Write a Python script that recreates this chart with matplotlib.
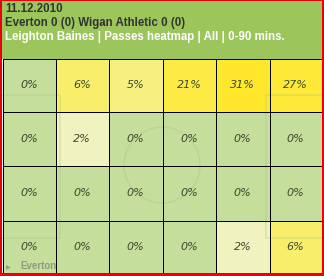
import matplotlib

matplotlib.use("Agg")
import matplotlib.pyplot as plt
import numpy as np
from matplotlib.colors import LinearSegmentedColormap
from matplotlib.patches import Circle, Rectangle

# chart data
match_date = "11.12.2010"
match_title = "Everton 0 (0) Wigan Athletic 0 (0)"
subtitle = "Leighton Baines | Passes heatmap | All | 0-90 mins."
team_label = "Everton"
pass_share = np.array(
    [
        [0, 6, 5, 21, 31, 27],
        [0, 2, 0, 0, 0, 0],
        [0, 0, 0, 0, 0, 0],
        [0, 0, 0, 0, 2, 6],
    ]
)

# layout in pixel units
W, H = 324, 276
x_edges = np.array([2.5, 55.5, 108.5, 162.5, 215.5, 269.5, 321.5])
y_edges = np.array([58.5, 111.5, 165.5, 220.5, 276])

vmax = 31.0
cmap = LinearSegmentedColormap.from_list(
    "heat",
    [
        (0.0, "#c6de9c"),
        (2 / vmax, "#f1f3c0"),
        (5 / vmax, "#f6f07e"),
        (6 / vmax, "#f9ee6a"),
        (1.0, "#ffe82c"),
    ],
)

fig = plt.figure(figsize=(W / 100, H / 100), dpi=100)
ax = fig.add_axes([0, 0, 1, 1])
ax.set_xlim(0, W)
ax.set_ylim(H, 0)
ax.axis("off")

# header
ax.add_patch(Rectangle((0, 0), W, 58.5, facecolor="#9cc65b", edgecolor="none", zorder=1))

ax.pcolormesh(x_edges, y_edges, pass_share, cmap=cmap, vmin=0, vmax=vmax, zorder=2)

# faint pitch markings
line_kw = dict(color="#a8c080", alpha=0.3, linewidth=1.2, zorder=3)
ax.add_patch(Circle((162, 165), 38, fill=False, **line_kw))
ax.plot([2, 60, 60, 2], [95, 95, 238, 238], **line_kw)
ax.plot([322, 266, 266, 322], [95, 95, 238, 238], **line_kw)

# cell borders
ax.vlines(x_edges, y_edges[0], y_edges[-1], colors="black", linewidth=0.72,
          antialiased=False, zorder=3.5)
ax.hlines(y_edges[:-1], x_edges[0], x_edges[-1], colors="black", linewidth=0.72,
          antialiased=False, zorder=3.5)

# red frame
red = "#e8000b"
for rect in [(0, 0, W, 1), (0, 0, 2, H), (322, 0, 2, H), (0, 273, W, 3)]:
    ax.add_patch(Rectangle(rect[:2], rect[2], rect[3], facecolor=red, edgecolor="none",
                           antialiased=False, zorder=5))

xc = (x_edges[:-1] + x_edges[1:]) / 2
yc = (y_edges[:-1] + y_edges[1:]) / 2
yc[-1] = (220.5 + 273) / 2
for i, row in enumerate(pass_share):
    for j, val in enumerate(row):
        ax.text(
            xc[j],
            yc[i],
            f"{val}%",
            ha="center",
            va="center",
            fontsize=8,
            style="italic",
            color="#3b4a2e",
            family="DejaVu Sans",
            zorder=4,
        )

head_kw = dict(family="Liberation Sans", fontweight="bold", fontsize=8.3, va="baseline", zorder=4)
ax.text(5, 12, match_date, color="#333333", **head_kw)
ax.text(5, 26, match_title, color="#333333", **head_kw)
ax.text(5, 40, subtitle, color="white", **head_kw)

ax.text(6, 269, "\u25b6", fontsize=4.5, color="#8d9d82", va="baseline", zorder=4)
ax.text(20, 269, team_label, fontsize=7, fontweight="bold", color="#8d9d82",
        family="Liberation Sans", va="baseline", zorder=4)

fig.savefig("out.png", dpi=100)
